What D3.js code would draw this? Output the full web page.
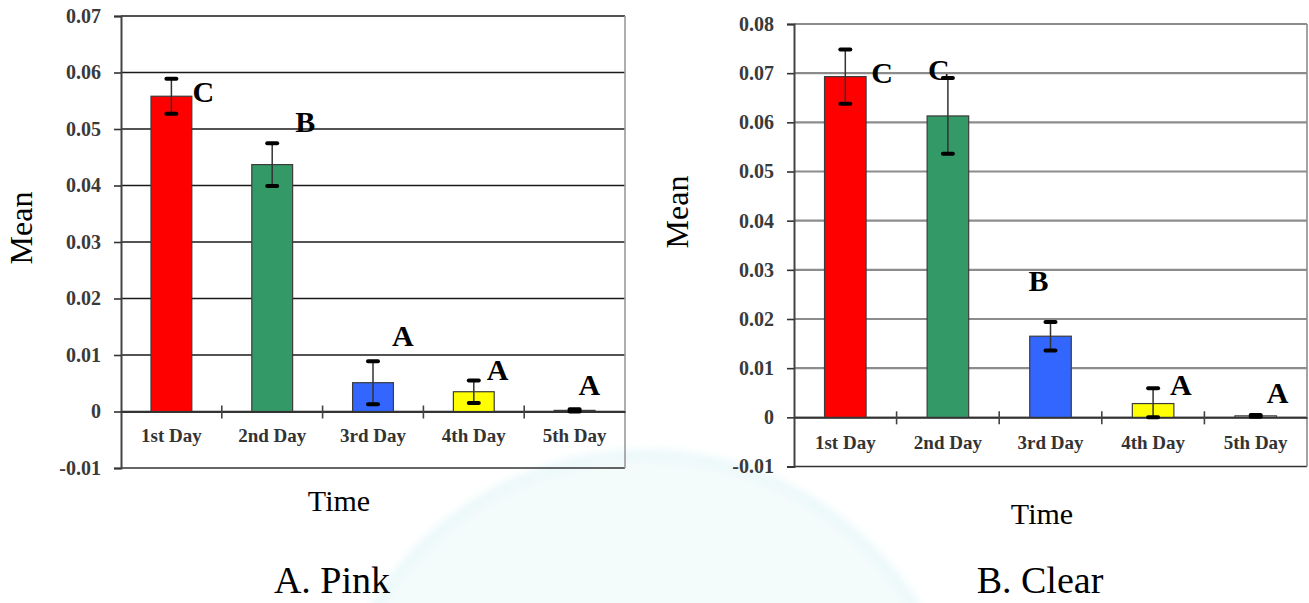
<!DOCTYPE html>
<html>
<head>
<meta charset="utf-8">
<script src="https://cdn.jsdelivr.net/npm/d3@7/dist/d3.min.js"></script>
<style>
  html, body { margin: 0; padding: 0; background: #fff; }
  svg { display: block; }
</style>
</head>
<body>
<svg id="chart" width="1309" height="603"></svg>
<script>
// ---- data ----
const days = ["1st Day", "2nd Day", "3rd Day", "4th Day", "5th Day"];
const barColors = ["#ff0000", "#339966", "#3366ff", "#ffff00", "#ffffff"];

const pinkMeans  = [0.0558, 0.0437, 0.0051, 0.0035, 0.0002];
const pinkErrors = [0.0031, 0.0038, 0.0038, 0.0020, 0.0002];
const pinkGroups = ["C", "B", "A", "A", "A"];
const pinkTicks  = [-0.01, 0, 0.01, 0.02, 0.03, 0.04, 0.05, 0.06, 0.07];

const clearMeans  = [0.0693, 0.0613, 0.0165, 0.0028, 0.0003];
const clearErrors = [0.0055, 0.0077, 0.0029, 0.0031, 0.0002];
const clearGroups = ["C", "C", "B", "A", "A"];
const clearTicks  = [-0.01, 0, 0.01, 0.02, 0.03, 0.04, 0.05, 0.06, 0.07, 0.08];

// ---- layout ----
// letter placement: [x offset from bar centre in px, baseline level in data units]
const pinkLetterPos  = [[21, 0.0547], [23, 0.0494], [19, 0.0116], [13, 0.0055], [4, 0.0030]];
const clearLetterPos = [[26, 0.0679], [-20, 0.0686], [-22, 0.0256], [17, 0.0046], [11, 0.0030]];

const panels = [
  { left: 121, right: 625, top: 16, bottom: 468, means: pinkMeans, errors: pinkErrors,
    groups: pinkGroups, ticks: pinkTicks, letterPos: pinkLetterPos,
    grid: "#1a1a1a", gridW: 1.4, frame: "#9a9a9a", labelY: 442,
    yTitle: { x: 32, y: 228 }, xTitle: { x: 339, y: 511 }, name: { x: 332, y: 593, text: "A. Pink" } },
  { left: 794, right: 1307, top: 24, bottom: 466.5, means: clearMeans, errors: clearErrors,
    groups: clearGroups, ticks: clearTicks, letterPos: clearLetterPos,
    grid: "#8c8c8c", gridW: 2.2, frame: "#8c8c8c", labelY: 449,
    yTitle: { x: 688, y: 212 }, xTitle: { x: 1042, y: 524 }, name: { x: 1040, y: 593, text: "B. Clear" } }
];

const svg = d3.select("#chart");
const serif = "'Liberation Serif', 'Times New Roman', Times, serif";

svg.append("rect").attr("width", 1309).attr("height", 603).attr("fill", "#fff");

const defs = svg.append("defs");
defs.append("filter").attr("id", "soft")
  .append("feGaussianBlur").attr("stdDeviation", 4);

// pale publisher seal behind the lower half
svg.append("circle")
  .attr("cx", 645).attr("cy", 770).attr("r", 315)
  .attr("fill", "#eef9fa").attr("opacity", 0.6)
  .attr("stroke", "#dcf3f5").attr("stroke-width", 10).attr("filter", "url(#soft)");

panels.forEach(p => {
  const g = svg.append("g");
  const ticks = p.ticks;
  const y = d3.scaleLinear()
    .domain([ticks[0], ticks[ticks.length - 1]])
    .range([p.bottom, p.top]);
  const x = d3.scaleBand().domain(days).range([p.left, p.right]).paddingInner(0).paddingOuter(0);
  const barW = x.bandwidth() * 0.405;

  // horizontal grid lines
  g.append("g").selectAll("line").data(ticks).join("line")
    .attr("x1", p.left).attr("x2", p.right)
    .attr("y1", d => y(d)).attr("y2", d => y(d))
    .attr("stroke", d => d === ticks[0] ? "#333" : p.grid)
    .attr("stroke-width", d => d === ticks[0] ? 1.6 : p.gridW);

  // right frame edge
  g.append("line")
    .attr("x1", p.right).attr("x2", p.right)
    .attr("y1", p.top).attr("y2", p.bottom)
    .attr("stroke", p.frame).attr("stroke-width", 1.6);

  // y axis
  const yAxis = d3.axisLeft(y).tickValues(ticks).tickSize(7).tickPadding(13)
    .tickFormat(d => d === 0 ? "0" : d3.format(".2f")(d).replace("\u2212", "-"));
  const ya = g.append("g").attr("transform", `translate(${p.left},0)`).call(yAxis);
  ya.select(".domain").attr("stroke", "#444").attr("stroke-width", 2);
  ya.selectAll(".tick line").attr("stroke", "#333").attr("stroke-width", 1.6);
  ya.selectAll(".tick text")
    .attr("font-family", serif).attr("font-weight", "bold")
    .attr("font-size", 20).attr("fill", "#3a3a3a");

  // bars
  g.append("g").selectAll("rect").data(p.means).join("rect")
    .attr("x", (d, i) => x(days[i]) + x.bandwidth() / 2 - barW / 2)
    .attr("width", barW)
    .attr("y", d => y(d))
    .attr("height", d => y(0) - y(d))
    .attr("fill", (d, i) => barColors[i])
    .attr("stroke", "#3c3c3c").attr("stroke-width", 1.2);

  // zero axis with category ticks
  const xAxis = d3.axisBottom(x).tickSize(0).tickFormat("");
  const xa = g.append("g").attr("transform", `translate(0,${y(0)})`).call(xAxis);
  xa.select(".domain").attr("stroke", "#333").attr("stroke-width", 1.8);
  g.append("g").selectAll("line").data(days.slice(1)).join("line")
    .attr("x1", d => x(d)).attr("x2", d => x(d))
    .attr("y1", y(0) - 6).attr("y2", y(0) + 7)
    .attr("stroke", "#444").attr("stroke-width", 1.6);

  // category labels
  g.append("g").selectAll("text").data(days).join("text")
    .attr("x", d => x(d) + x.bandwidth() / 2)
    .attr("y", p.labelY)
    .attr("text-anchor", "middle")
    .attr("font-family", serif).attr("font-weight", "bold")
    .attr("font-size", 19).attr("fill", "#333")
    .text(d => d);

  // error bars
  const eb = g.append("g").selectAll("g").data(p.means).join("g")
    .attr("transform", (d, i) => `translate(${x(days[i]) + x.bandwidth() / 2},0)`);
  eb.append("line")
    .attr("y1", (d, i) => y(d + p.errors[i]))
    .attr("y2", (d, i) => y(Math.max(d - p.errors[i], 0)))
    .attr("stroke", "#333").attr("stroke-width", 1.5);
  eb.append("line")
    .attr("x1", -5).attr("x2", 5)
    .attr("y1", (d, i) => y(d + p.errors[i]))
    .attr("y2", (d, i) => y(d + p.errors[i]))
    .attr("stroke", "#000").attr("stroke-width", 4).attr("stroke-linecap", "round");
  eb.append("line")
    .attr("x1", -5).attr("x2", 5)
    .attr("y1", (d, i) => y(Math.max(d - p.errors[i], 0)))
    .attr("y2", (d, i) => y(Math.max(d - p.errors[i], 0)))
    .attr("stroke", "#000").attr("stroke-width", 4).attr("stroke-linecap", "round");

  // significance letters
  g.append("g").selectAll("text").data(p.groups).join("text")
    .attr("x", (d, i) => x(days[i]) + x.bandwidth() / 2 + p.letterPos[i][0])
    .attr("y", (d, i) => y(p.letterPos[i][1]))
    .attr("font-family", serif).attr("font-weight", "bold")
    .attr("font-size", 30).attr("fill", "#000")
    .text(d => d);

  // axis titles
  g.append("text")
    .attr("transform", `translate(${p.yTitle.x},${p.yTitle.y}) rotate(-90)`)
    .attr("text-anchor", "middle")
    .attr("font-family", serif).attr("font-size", 32).attr("fill", "#000")
    .text("Mean");
  g.append("text")
    .attr("x", p.xTitle.x).attr("y", p.xTitle.y)
    .attr("text-anchor", "middle")
    .attr("font-family", serif).attr("font-size", 30).attr("fill", "#000")
    .text("Time");
  g.append("text")
    .attr("x", p.name.x).attr("y", p.name.y)
    .attr("text-anchor", "middle")
    .attr("font-family", serif).attr("font-size", 38).attr("fill", "#000")
    .text(p.name.text);
});
</script>
</body>
</html>
